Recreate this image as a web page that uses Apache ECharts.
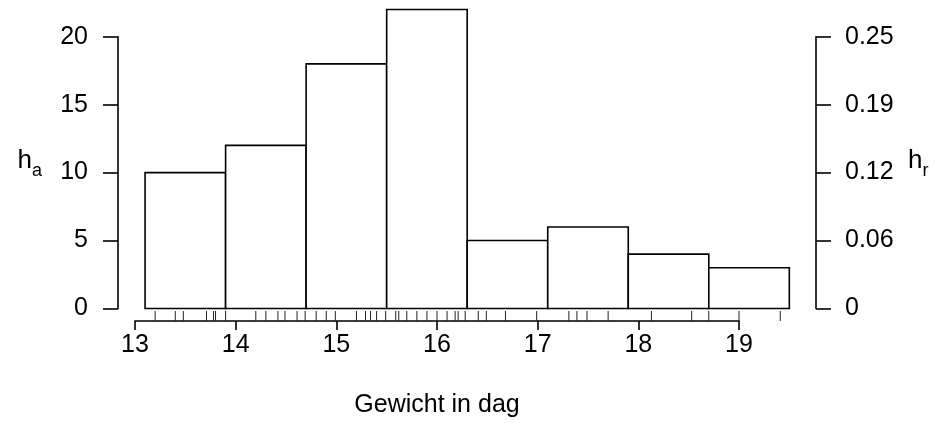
<!DOCTYPE html>
<html>
<head>
<meta charset="utf-8">
<script src="https://cdn.jsdelivr.net/npm/echarts@6/dist/echarts.min.js"></script>
<style>
html,body{margin:0;padding:0;background:#fff;}
#chart{width:935px;height:446px;}
</style>
</head>
<body>
<div id="chart"></div>
<script>
// Histogram bin breaks (Gewicht in dag) and absolute counts
var breaks = [13.1, 13.9, 14.7, 15.5, 16.3, 17.1, 17.9, 18.7, 19.5];
var counts = [10, 12, 18, 22, 5, 6, 4, 3];
var rugValues = [13.2, 13.4, 13.48, 13.71, 13.78, 13.8, 13.9, 14.2, 14.3, 14.42, 14.49, 14.61, 14.69,
  14.8, 14.9, 14.99, 15.2, 15.29, 15.34, 15.4, 15.49, 15.59, 15.62, 15.7, 15.8, 15.9, 16.0, 16.1,
  16.18, 16.21, 16.28, 16.41, 16.49, 16.68, 16.99, 17.31, 17.39, 17.49, 17.7, 18.13, 18.53, 18.7,
  19.0, 19.41];
// Axis ticks
var xTicks = [13, 14, 15, 16, 17, 18, 19];
var absTicks = [0, 5, 10, 15, 20];
var relTickLabels = ['0', '0.06', '0.12', '0.19', '0.25'];

var FONT = '"Liberation Sans", Arial, Helvetica, sans-serif';
var LW = 1.6;

var barData = counts.map(function (c, i) { return [breaks[i], breaks[i + 1], c]; });
var rugData = rugValues.map(function (v) { return [v]; });

var chart = echarts.init(document.getElementById('chart'), null, {renderer: 'canvas'});

function yAxisBase() {
  return {
    type: 'value',
    min: absTicks[0],
    max: absTicks[absTicks.length - 1],
    interval: absTicks[1] - absTicks[0],
    splitLine: {show: false},
    axisLine: {show: true, lineStyle: {color: '#000', width: LW}},
    axisTick: {show: true, length: 15, lineStyle: {color: '#000', width: LW}},
    nameLocation: 'middle',
    nameRotate: 0
  };
}

var yLeft = yAxisBase();
yLeft.position = 'left';
yLeft.offset = 17;
yLeft.axisLabel = {color: '#000', fontSize: 25, fontFamily: FONT, margin: 30};
yLeft.name = '{h|h}{s|a}';
yLeft.nameGap = 76;
yLeft.nameTextStyle = {
  color: '#000', fontFamily: FONT, padding: [0, 0, 24, 0],
  rich: {
    h: {fontSize: 26, fontFamily: FONT, color: '#000'},
    s: {fontSize: 18, fontFamily: FONT, color: '#000', verticalAlign: 'bottom', padding: [0, 0, -6, 0]}
  }
};

var yRight = yAxisBase();
yRight.position = 'right';
yRight.offset = 77;
yRight.axisLabel = {
  color: '#000', fontSize: 25, fontFamily: FONT, margin: 29,
  formatter: function (v) {
    var i = absTicks.indexOf(v);
    return i >= 0 ? relTickLabels[i] : '';
  }
};
yRight.name = '{h|h}{s|r}';
yRight.nameGap = 92;
yRight.nameTextStyle = {
  color: '#000', fontFamily: FONT, padding: [0, 0, 24, 0],
  rich: {
    h: {fontSize: 26, fontFamily: FONT, color: '#000'},
    s: {fontSize: 18, fontFamily: FONT, color: '#000', verticalAlign: 'bottom', padding: [0, 0, -6, 0]}
  }
};

chart.setOption({
  animation: false,
  backgroundColor: '#fff',
  grid: {left: 135, right: 196, top: 36.7, bottom: 137.5, containLabel: false},
  xAxis: {
    type: 'value',
    min: xTicks[0],
    max: xTicks[xTicks.length - 1],
    interval: xTicks[1] - xTicks[0],
    offset: 12.5,
    splitLine: {show: false},
    axisLine: {show: true, onZero: false, lineStyle: {color: '#000', width: LW}},
    axisTick: {show: true, length: 9, lineStyle: {color: '#000', width: LW}},
    axisLabel: {color: '#000', fontSize: 25, fontFamily: FONT, margin: 12},
    name: 'Gewicht in dag',
    nameLocation: 'middle',
    nameGap: 72,
    nameTextStyle: {color: '#000', fontSize: 25, fontFamily: FONT}
  },
  yAxis: [yLeft, yRight],
  series: [
    {
      type: 'custom',
      clip: false,
      xAxisIndex: 0,
      yAxisIndex: 0,
      data: barData,
      encode: {x: [0, 1], y: 2},
      renderItem: function (params, api) {
        var a = api.coord([api.value(0), api.value(2)]);
        var b = api.coord([api.value(1), 0]);
        return {
          type: 'rect',
          shape: {x: a[0], y: a[1], width: b[0] - a[0], height: b[1] - a[1]},
          style: {fill: '#fff', stroke: '#000', lineWidth: LW}
        };
      }
    },
    {
      type: 'custom',
      clip: false,
      xAxisIndex: 0,
      yAxisIndex: 0,
      data: rugData,
      encode: {x: 0},
      renderItem: function (params, api) {
        var p = api.coord([api.value(0), 0]);
        return {
          type: 'line',
          shape: {x1: p[0], y1: p[1] + 2.5, x2: p[0], y2: p[1] + 12.5},
          style: {stroke: '#222', lineWidth: 1}
        };
      }
    }
  ]
});
</script>
</body>
</html>
